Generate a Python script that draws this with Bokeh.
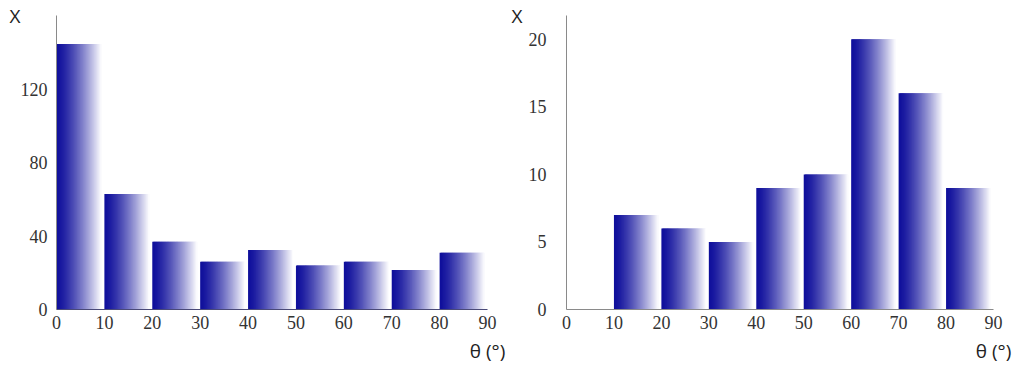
from bokeh.plotting import figure
from bokeh.layouts import row
from bokeh.models import FixedTicker, ColumnDataSource
from bokeh.embed import file_html
from bokeh.resources import INLINE

# ---- data ----
bin_edges = [0, 10, 20, 30, 40, 50, 60, 70, 80]
counts_left = [145, 63, 37, 26, 32.5, 24, 26, 21.5, 31]
counts_right = [0, 7, 6, 5, 9, 10, 20, 16, 9]
x_ticks = [0, 10, 20, 30, 40, 50, 60, 70, 80, 90]
y_ticks_left = [0, 40, 80, 120]
y_ticks_right = [0, 5, 10, 15, 20]
y_label = "X"
x_label = "θ (°)"

BAR_W = 9.4
N_STRIPS = 40
C0 = (16, 16, 156)
C1 = (252, 252, 254)
SERIF = "Liberation Serif"
SANS = "Open Sans"


def gradient_source(edges, counts):
    left, right, top, color = [], [], [], []
    step = BAR_W / N_STRIPS
    for e, c in zip(edges, counts):
        if c <= 0:
            continue
        for k in range(N_STRIPS):
            t = (k / (N_STRIPS - 1)) ** 1.35
            r = int(C0[0] + (C1[0] - C0[0]) * t)
            g = int(C0[1] + (C1[1] - C0[1]) * t)
            b = int(C0[2] + (C1[2] - C0[2]) * t)
            left.append(e + step * k)
            right.append(min(e + step * (k + 1) + 0.22, e + BAR_W))
            top.append(c)
            color.append("#%02x%02x%02x" % (r, g, b))
    return ColumnDataSource(dict(left=left, right=right, top=top,
                                 bottom=[0] * len(top), color=color))


def make_panel(counts, yticks, ymax, mb_left, mb_right, mb_top, ystand,
               xaxis_color, ylab_standoff):
    p = figure(width=508, height=366, x_range=(0, 90), y_range=(0, ymax),
               output_backend="svg", toolbar_location=None,
               min_border_left=mb_left, min_border_right=mb_right,
               min_border_top=mb_top, min_border_bottom=55)
    p.outline_line_color = None
    p.xgrid.visible = False
    p.ygrid.visible = False
    p.quad(left="left", right="right", top="top", bottom="bottom",
           fill_color="color", line_color=None, source=gradient_source(bin_edges, counts))
    for ax in (p.xaxis[0], p.yaxis[0]):
        ax.major_tick_line_color = None
        ax.minor_tick_line_color = None
        ax.major_tick_out = 0
        ax.major_tick_in = 0
        ax.major_label_text_font = SERIF
        ax.major_label_text_font_size = "18px"
        ax.major_label_text_color = "#333333"
        ax.axis_label_text_font = SANS
        ax.axis_label_text_font_style = "normal"
        ax.axis_label_text_font_size = "19px"
        ax.axis_label_text_color = "#222222"
        ax.axis_label_align = "end"
    p.xaxis.ticker = FixedTicker(ticks=x_ticks)
    p.yaxis.ticker = FixedTicker(ticks=yticks)
    p.xaxis.major_label_standoff = 6
    p.yaxis.major_label_standoff = ystand
    p.yaxis.axis_line_color = "#8a8a8a"
    p.xaxis.axis_line_color = xaxis_color
    p.yaxis.axis_line_width = 1
    p.xaxis.axis_line_width = 1.2
    p.xaxis.axis_label = x_label
    p.xaxis.axis_label_standoff = 6
    p.yaxis.axis_label = y_label
    p.yaxis.axis_label_orientation = "horizontal"
    p.yaxis.axis_label_standoff = ylab_standoff
    return p


p1 = make_panel(counts_left, y_ticks_left, 160.5, 56, 21, 14, 9, "#4a4a78", -3)
p2 = make_panel(counts_right, y_ticks_right, 21.76, 58, 23, 15, 20, "#8a8a8a", 3)

layout = row(p1, p2)
open("out.html", "w").write(file_html(layout, INLINE))
